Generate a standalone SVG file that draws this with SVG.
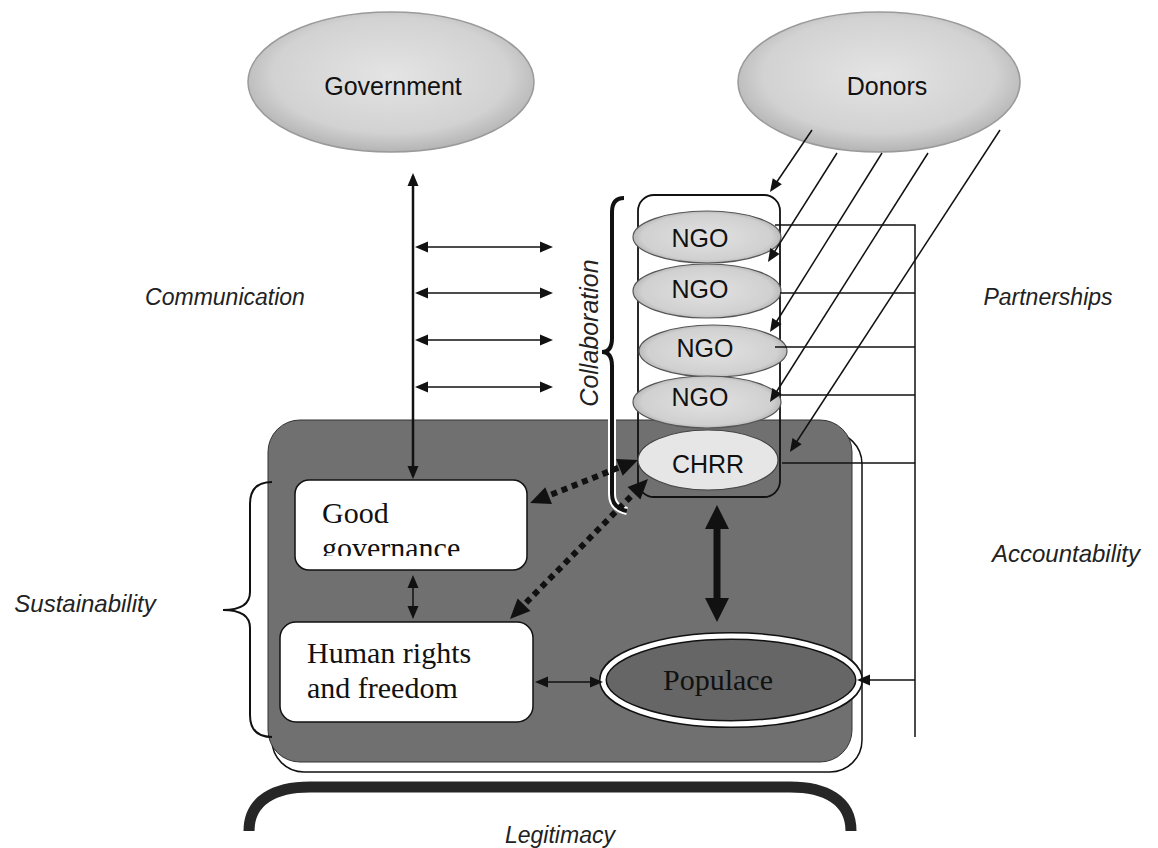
<svg xmlns="http://www.w3.org/2000/svg" width="1158" height="848" viewBox="0 0 1158 848">
<style>
.sans{font-family:"Liberation Sans",Arial,sans-serif;fill:#111}
.lbl{font-family:"Liberation Sans",Arial,sans-serif;font-style:italic;font-size:23px;fill:#222}
.node{font-size:25px}
.serif{font-family:"Liberation Serif","Times New Roman",serif;font-size:30px;fill:#111}
.cloud{fill:url(#cloudGrad);stroke:#9a9a9a;stroke-width:1.5}
.ngo{fill:url(#ngoGrad);stroke:#555;stroke-width:1.2}
.box{fill:#fff;stroke:#111;stroke-width:1.5}
.thin{fill:none;stroke:#111;stroke-width:1.5}
.dot{fill:none;stroke:#111;stroke-width:6;stroke-dasharray:6 5}
</style>
<defs>
<radialGradient id="cloudGrad" cx="0.5" cy="0.45" r="0.55">
<stop offset="0" stop-color="#e4e4e4"/>
<stop offset="0.75" stop-color="#d2d2d2"/>
<stop offset="1" stop-color="#b4b4b4"/>
</radialGradient>
<radialGradient id="ngoGrad" cx="0.5" cy="0.5" r="0.55">
<stop offset="0" stop-color="#e2e2e2"/>
<stop offset="0.8" stop-color="#d0d0d0"/>
<stop offset="1" stop-color="#a8a8a8"/>
</radialGradient>
<marker id="ah" markerUnits="userSpaceOnUse" markerWidth="13" markerHeight="11" refX="10" refY="5.5" orient="auto-start-reverse" overflow="visible">
<path d="M0,0 L13,5.5 L0,11 z" fill="#111"/>
</marker>
<marker id="ahBig" markerUnits="userSpaceOnUse" markerWidth="24" markerHeight="24" refX="12" refY="12" orient="auto-start-reverse" overflow="visible">
<path d="M0,0 L24,12 L0,24 z" fill="#111"/>
</marker>
<marker id="ahDot" markerUnits="userSpaceOnUse" markerWidth="20" markerHeight="18" refX="8" refY="9" orient="auto-start-reverse" overflow="visible">
<path d="M0,0 L20,9 L0,18 z" fill="#111"/>
</marker>
<clipPath id="ggClip"><rect x="295" y="480" width="232" height="76"/></clipPath>
</defs>

<g id="government">
<ellipse class="cloud" cx="391" cy="82" rx="143" ry="70"/>
<text class="sans node" x="393" y="95" text-anchor="middle">Government</text>
</g>
<g id="donors">
<ellipse class="cloud" cx="879" cy="82" rx="141" ry="70"/>
<text class="sans node" x="887" y="95" text-anchor="middle">Donors</text>
</g>

<g id="society">
<rect x="272" y="432" width="590" height="340" rx="32" fill="#fff" stroke="#111" stroke-width="1.5"/>
<rect x="268" y="420" width="584" height="342" rx="32" fill="#707070" stroke="#333" stroke-width="1"/>
</g>

<g id="ngo-column">
<rect x="638" y="195" width="142" height="302" rx="16" fill="none" stroke="#111" stroke-width="1.8"/>
</g>
<g id="ngo1">
<ellipse class="ngo" cx="707" cy="237" rx="74" ry="26"/>
<text class="sans node" x="700" y="247" text-anchor="middle">NGO</text>
</g>
<g id="ngo2">
<ellipse class="ngo" cx="707" cy="291" rx="74" ry="27"/>
<text class="sans node" x="700" y="298" text-anchor="middle">NGO</text>
</g>
<g id="ngo3">
<ellipse class="ngo" cx="713" cy="351" rx="74" ry="26"/>
<text class="sans node" x="705" y="357" text-anchor="middle">NGO</text>
</g>
<g id="ngo4">
<ellipse class="ngo" cx="707" cy="402" rx="74" ry="26"/>
<text class="sans node" x="700" y="406" text-anchor="middle">NGO</text>
</g>
<g id="chrr">
<ellipse cx="708" cy="460" rx="70" ry="30" fill="#e6e6e6" stroke="#444" stroke-width="1.2"/>
<text class="sans node" x="708" y="473" text-anchor="middle">CHRR</text>
</g>

<g id="good-governance">
<rect class="box" x="295" y="480" width="232" height="90" rx="14"/>
<g clip-path="url(#ggClip)">
<text class="serif" x="322" y="523">Good</text>
<text class="serif" x="322" y="558">governance</text>
</g>
</g>
<g id="human-rights">
<rect class="box" x="280" y="622" width="253" height="100" rx="16"/>
<text class="serif" x="307" y="663">Human rights</text>
<text class="serif" x="307" y="698">and freedom</text>
</g>
<g id="populace">
<ellipse cx="731" cy="680" rx="128" ry="44" fill="#666" stroke="#111" stroke-width="8"/>
<ellipse cx="731" cy="680" rx="128" ry="44" fill="none" stroke="#fff" stroke-width="5"/>
<text class="serif" x="718" y="690" text-anchor="middle" fill="#1a1a1a">Populace</text>
</g>

<g id="legitimacy-arch">
<path d="M249,831 C249,800 275,787 310,787 L790,787 C825,787 851,800 851,831" fill="none" stroke="#262626" stroke-width="11"/>
</g>

<g id="braces">
<path d="M272,482 Q250,482 250,504 L250,592 Q250,610 223,610 Q250,610 250,628 L250,715 Q250,737 272,737" fill="none" stroke="#111" stroke-width="2"/>
<path d="M624,198 Q612,198 612,212 L612,338 Q612,352 602,352 Q612,352 612,366 L612,494 Q612,508 627,511" fill="none" stroke="#fff" stroke-width="8"/>
<path d="M624,198 Q612,198 612,212 L612,338 Q612,352 602,352 Q612,352 612,366 L612,494 Q612,508 627,511" fill="none" stroke="#111" stroke-width="4"/>
</g>

<g id="connectors">
<line x1="413" y1="176" x2="413" y2="476" stroke="#111" stroke-width="2.5" marker-start="url(#ah)" marker-end="url(#ah)"/>
<line class="thin" x1="418" y1="247" x2="550" y2="247" marker-start="url(#ah)" marker-end="url(#ah)"/>
<line class="thin" x1="418" y1="293" x2="550" y2="293" marker-start="url(#ah)" marker-end="url(#ah)"/>
<line class="thin" x1="418" y1="340" x2="550" y2="340" marker-start="url(#ah)" marker-end="url(#ah)"/>
<line class="thin" x1="418" y1="387" x2="550" y2="387" marker-start="url(#ah)" marker-end="url(#ah)"/>

<line class="thin" x1="812" y1="130" x2="771.7" y2="189.5" marker-end="url(#ah)"/>
<line class="thin" x1="837" y1="153" x2="769.6" y2="259.5" marker-end="url(#ah)"/>
<line class="thin" x1="882" y1="153" x2="771.6" y2="329.5" marker-end="url(#ah)"/>
<line class="thin" x1="928" y1="153" x2="771.6" y2="399.5" marker-end="url(#ah)"/>
<line class="thin" x1="1000" y1="130" x2="791.6" y2="449.5" marker-end="url(#ah)"/>

<polyline class="thin" points="775,225 915,225 915,737"/>
<line class="thin" x1="780" y1="293" x2="915" y2="293"/>
<line class="thin" x1="775" y1="347" x2="915" y2="347"/>
<line class="thin" x1="780" y1="395" x2="915" y2="395"/>
<line class="thin" x1="782" y1="463" x2="915" y2="463"/>
<line class="thin" x1="915" y1="680" x2="860" y2="680" marker-end="url(#ah)"/>

<line x1="717" y1="517" x2="717" y2="610" stroke="#111" stroke-width="7" marker-start="url(#ahBig)" marker-end="url(#ahBig)"/>
<line class="thin" x1="538" y1="682" x2="600" y2="682" marker-start="url(#ah)" marker-end="url(#ah)"/>
<line class="thin" x1="413" y1="578" x2="413" y2="616" marker-start="url(#ah)" marker-end="url(#ah)"/>

<line class="dot" x1="541.2" y1="498.6" x2="626.8" y2="464.4" marker-start="url(#ahDot)" marker-end="url(#ahDot)"/>
<line class="dot" x1="518.4" y1="610.5" x2="639.6" y2="487.5" marker-start="url(#ahDot)" marker-end="url(#ahDot)"/>
</g>

<g id="labels">
<text class="lbl" x="225" y="305" text-anchor="middle">Communication</text>
<text class="lbl" x="1048" y="305" text-anchor="middle">Partnerships</text>
<text class="lbl" x="1066" y="562" text-anchor="middle" style="font-size:24px">Accountability</text>
<text class="lbl" x="85" y="612" text-anchor="middle" style="font-size:24px">Sustainability</text>
<text class="lbl" x="505" y="843">Legitimacy</text>
<text class="lbl" x="598" y="333" text-anchor="middle" transform="rotate(-90 598 333)" style="font-size:25px">Collaboration</text>
</g>
</svg>
